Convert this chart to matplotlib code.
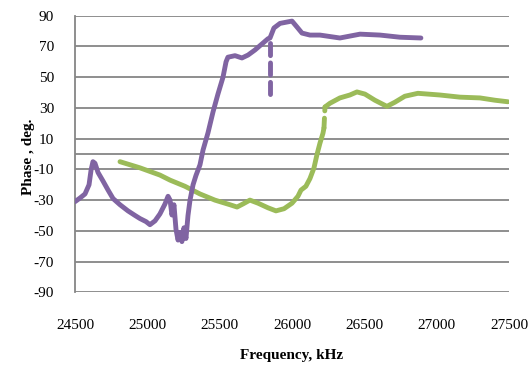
import matplotlib
matplotlib.use("Agg")
import matplotlib.pyplot as plt

plt.rcParams['font.family'] = ['Liberation Serif', 'DejaVu Serif']
plt.rcParams['axes.unicode_minus'] = False

# Phase response, series 1 (purple)
purple_freq = [24500, 24535, 24569, 24597, 24611, 24624, 24638, 24659, 24693, 24728,
               24763, 24811, 24866, 24915, 24949, 24991, 25018, 25053, 25087, 25122,
               25143, 25157, 25170, 25184, 25198, 25212, 25225, 25239, 25253, 25267,
               25281, 25295, 25316, 25336, 25364, 25385, 25419, 25454, 25488, 25523,
               25544, 25557, 25606, 25654, 25696, 25744, 25792, 25834, 25848, 25875,
               25917, 25972, 26000, 26034, 26069, 26124, 26193, 26331, 26470, 26608,
               26746, 26891]
purple_phase = [-31, -28.6, -26, -20, -10.4, -5, -6, -12, -17.5, -23.4,
                -29, -33, -37, -40, -42, -44, -46, -43.5, -39, -32.5,
                -27.5, -30, -39.7, -33, -49, -56, -51, -57, -48, -55,
                -40, -30, -20, -14, -7, 2.6, 13.7, 27.4, 39, 50,
                60, 63, 64, 62.5, 64.4, 67.7, 71.6, 75, 75.5, 82,
                85, 86, 86.5, 82.7, 78.7, 77.4, 77.4, 75.5, 78, 77.4,
                76, 75.5]
# short dashed excursion of series 1
purple_dip_freq = [25848, 25848]
purple_dip_phase = [72, 35]

# Phase response, series 2 (green)
green_freq = [24811, 24949, 25087, 25157, 25260, 25364, 25467, 25571, 25620, 25661,
              25709, 25765, 25834, 25889, 25945, 26000, 26041, 26062, 26096, 26124,
              26152, 26172, 26193, 26214, 26221]
green_phase = [-5, -9, -13.7, -17, -21, -26, -30, -33, -34.5, -32.5,
               -30, -32, -35, -37, -35.6, -32, -27.5, -23.5, -21, -16,
               -9, -0.6, 7, 13.5, 17]
green_jump_freq = [26221, 26228]
green_jump_phase = [17, 30.6]
green_freq2 = [26228, 26262, 26331, 26400, 26449, 26504, 26573, 26656, 26711, 26780,
               26870, 27022, 27161, 27299, 27403, 27492]
green_phase2 = [30.6, 33, 36.5, 38.4, 40.4, 39, 35, 31, 33.7, 37.6,
                39.5, 38.4, 37, 36.5, 35, 34]

x_ticks = [24500, 25000, 25500, 26000, 26500, 27000, 27500]
y_ticks = [-90, -70, -50, -30, -10, 10, 30, 50, 70, 90]

PURPLE = '#8064A2'
GREEN = '#9BBB59'
GRID = '#868686'

fig = plt.figure(figsize=(5.29, 3.67), dpi=100)
ax = fig.add_axes([0.1418, 0.2035, 0.8204, 0.7537])

for y in y_ticks:
    ax.axhline(y, color=GRID, lw=1.3, zorder=1)
ax.axhline(0, color=GRID, lw=1.3, zorder=1)

lw = 3.5
ax.plot(green_freq, green_phase, color=GREEN, lw=lw, solid_capstyle='round',
        solid_joinstyle='round', zorder=3)
ax.plot(green_jump_freq, green_jump_phase, color=GREEN, lw=lw, ls=(0, (2, 1.5)),
        dash_capstyle='round', zorder=3)
ax.plot(green_freq2, green_phase2, color=GREEN, lw=lw, solid_capstyle='round',
        solid_joinstyle='round', zorder=3)

ax.plot(purple_freq, purple_phase, color=PURPLE, lw=lw, solid_capstyle='round',
        solid_joinstyle='round', zorder=4)
ax.plot(purple_dip_freq, purple_dip_phase, color=PURPLE, lw=lw, ls=(0, (2.5, 1.5)),
        dash_capstyle='round', zorder=4)

ax.set_xlim(24500, 27500)
ax.set_ylim(-90, 90)
ax.set_xticks(x_ticks)
ax.set_yticks(y_ticks)
ax.set_xticklabels([str(v) for v in x_ticks])
ax.set_yticklabels([str(v) for v in y_ticks])
ax.tick_params(axis='both', length=0, labelsize=11)
ax.tick_params(axis='x', pad=19)
ax.tick_params(axis='y', pad=15)

for side in ['top', 'right', 'bottom']:
    ax.spines[side].set_visible(False)
ax.spines['left'].set_color(GRID)
ax.spines['left'].set_linewidth(1.3)

fig.text(0.552, 0.032, 'Frequency, kHz', ha='center', va='center',
         fontsize=11, fontweight='bold')
fig.text(0.053, 0.572, 'Phase , deg.', ha='center', va='center',
         fontsize=11, fontweight='bold', rotation=90)

fig.savefig('out.png', dpi=100)
